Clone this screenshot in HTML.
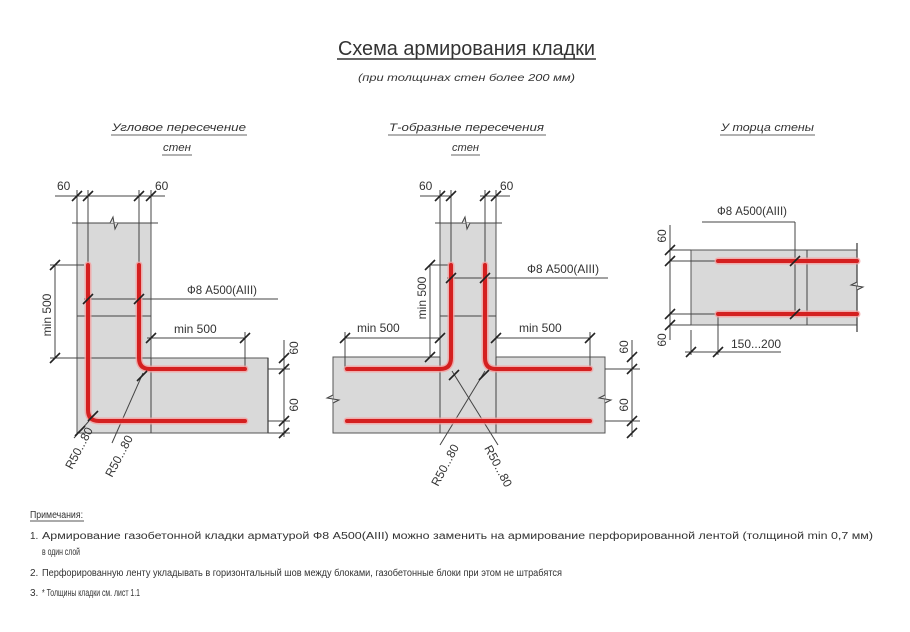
<!DOCTYPE html>
<html><head><meta charset="utf-8"><style>
html,body{margin:0;padding:0;background:#fff;}
svg{display:block;}
text{font-family:"Liberation Sans","DejaVu Sans",sans-serif;fill:#333;}
.it{font-style:italic;}
</style></head><body>
<svg width="910" height="632" viewBox="0 0 910 632" xmlns="http://www.w3.org/2000/svg">
<defs>
<g id="tk"><line x1="-5" y1="5" x2="5" y2="-5" stroke="#222" stroke-width="1.6"/></g>
</defs>
<text x="338" y="55" font-size="20" textLength="257" lengthAdjust="spacingAndGlyphs">Схема армирования кладки</text>
<line x1="337" y1="59" x2="596" y2="59" stroke="#333" stroke-width="1.5"/>
<text x="358" y="81" font-size="10" class="it" fill="#666" textLength="217" lengthAdjust="spacingAndGlyphs">(при толщинах стен более 200 мм)</text>

<g font-size="11" class="it">
<text x="112" y="131" textLength="134" lengthAdjust="spacingAndGlyphs">Угловое пересечение</text>
<line x1="111" y1="135" x2="247" y2="135" stroke="#666"/>
<text x="163" y="151" textLength="28" lengthAdjust="spacingAndGlyphs">стен</text>
<line x1="162" y1="155" x2="192" y2="155" stroke="#666"/>
<text x="389" y="131" textLength="155" lengthAdjust="spacingAndGlyphs">Т-образные пересечения</text>
<line x1="388" y1="135" x2="546" y2="135" stroke="#666"/>
<text x="452" y="151" textLength="27" lengthAdjust="spacingAndGlyphs">стен</text>
<line x1="451" y1="155" x2="480" y2="155" stroke="#666"/>
<text x="721" y="131" textLength="93" lengthAdjust="spacingAndGlyphs">У торца стены</text>
<line x1="720" y1="135" x2="815" y2="135" stroke="#666"/>
</g>

<g stroke="#444" stroke-width="1" fill="none">
<path d="M77 223 H151 V358 H268 V433 H77 Z" fill="#d9d9d9" stroke="#555"/>
<line x1="72" y1="223" x2="158" y2="223"/>
<path d="M110 223 l3 -6 l2 12 l3 -6" fill="#d9d9d9"/>
<line x1="77" y1="316" x2="151" y2="316"/>
<line x1="151" y1="358" x2="151" y2="433"/>
<line x1="268" y1="358" x2="268" y2="433" stroke-width="1.3"/>
<line x1="77" y1="358" x2="151" y2="358"/>
<line x1="55" y1="196" x2="158" y2="196"/>
<line x1="77" y1="190" x2="77" y2="223"/>
<line x1="88" y1="190" x2="88" y2="265"/>
<line x1="139" y1="190" x2="139" y2="265"/>
<line x1="151" y1="190" x2="151" y2="223"/>
<line x1="140" y1="196" x2="165" y2="196"/>
<line x1="55" y1="265" x2="55" y2="358"/>
<line x1="50" y1="265" x2="84" y2="265"/>
<line x1="50" y1="358" x2="77" y2="358"/>
<line x1="84" y1="299" x2="278" y2="299"/>
<line x1="147" y1="338" x2="245" y2="338"/>
<line x1="245" y1="332" x2="245" y2="369"/>
<line x1="284" y1="340" x2="284" y2="437"/>
<line x1="268" y1="369" x2="290" y2="369"/>
<line x1="268" y1="421" x2="290" y2="421"/>
<line x1="268" y1="433" x2="290" y2="433"/>
<line x1="96" y1="413" x2="74" y2="438"/>
<line x1="143" y1="373" x2="112" y2="443"/>

<path d="M440 223 H496 V357 H605 V433 H333 V357 H440 Z" fill="#d9d9d9" stroke="#555"/>
<line x1="435" y1="223" x2="502" y2="223"/>
<path d="M462 223 l3 -6 l2 12 l3 -6" fill="#d9d9d9"/>
<line x1="440" y1="316" x2="496" y2="316"/>
<line x1="440" y1="357" x2="440" y2="433"/>
<line x1="496" y1="357" x2="496" y2="433"/>
<path d="M333 395 l-6 3 l12 2 l-6 3" fill="#d9d9d9"/>
<path d="M605 395 l-6 3 l12 2 l-6 3" fill="#d9d9d9"/>
<line x1="420" y1="196" x2="451" y2="196"/>
<line x1="480" y1="196" x2="510" y2="196"/>
<line x1="440" y1="190" x2="440" y2="223"/>
<line x1="451" y1="190" x2="451" y2="265"/>
<line x1="485" y1="190" x2="485" y2="265"/>
<line x1="496" y1="190" x2="496" y2="223"/>
<line x1="430" y1="265" x2="451" y2="265"/>
<line x1="430" y1="265" x2="430" y2="357"/>
<line x1="447" y1="278" x2="608" y2="278"/>
<line x1="345" y1="338" x2="440" y2="338"/>
<line x1="345" y1="332" x2="345" y2="369"/>
<line x1="496" y1="338" x2="590" y2="338"/>
<line x1="590" y1="332" x2="590" y2="369"/>
<line x1="605" y1="369" x2="640" y2="369"/>
<line x1="605" y1="421" x2="640" y2="421"/>
<line x1="632" y1="340" x2="632" y2="437"/>
<line x1="430" y1="357" x2="440" y2="357"/>
<line x1="452" y1="371" x2="498" y2="445"/>
<line x1="485" y1="371" x2="440" y2="445"/>

<rect x="691" y="250" width="166" height="75" fill="#d9d9d9" stroke="#555"/>
<line x1="807" y1="250" x2="807" y2="325"/>
<line x1="857" y1="243" x2="857" y2="332" stroke-width="1.3"/>
<path d="M857 282 l-6 3 l12 2 l-6 3" fill="#d9d9d9"/>
<line x1="670" y1="250" x2="691" y2="250"/>
<line x1="670" y1="261" x2="718" y2="261"/>
<line x1="670" y1="314" x2="718" y2="314"/>
<line x1="670" y1="325" x2="691" y2="325"/>
<line x1="670" y1="225" x2="670" y2="340"/>
<line x1="702" y1="222" x2="795" y2="222"/>
<line x1="795" y1="222" x2="795" y2="314"/>
<line x1="691" y1="330" x2="691" y2="355"/>
<line x1="718" y1="314" x2="718" y2="355"/>
<line x1="685" y1="352" x2="781" y2="352"/>
</g>

<g fill="none" stroke-linecap="round" stroke-linejoin="round">
<g stroke="#f4a0a0" stroke-width="7" opacity="0.8">
<path d="M88 265 V410 Q88 421 99 421 H245"/>
<path d="M139 265 V358 Q139 369 150 369 H245"/>
<path d="M451 265 V358 Q451 369 440 369 H347"/>
<path d="M485 265 V358 Q485 369 496 369 H590"/>
<path d="M347 421 H590"/>
<path d="M718 261 H857 M718 314 H857"/>
</g>
<g stroke="#d42020" stroke-width="4">
<path d="M88 265 V410 Q88 421 99 421 H245"/>
<path d="M139 265 V358 Q139 369 150 369 H245"/>
<path d="M451 265 V358 Q451 369 440 369 H347"/>
<path d="M485 265 V358 Q485 369 496 369 H590"/>
<path d="M347 421 H590"/>
<path d="M718 261 H857 M718 314 H857"/>
</g>
</g>

<g>
<use href="#tk" x="77" y="196"/><use href="#tk" x="88" y="196"/><use href="#tk" x="139" y="196"/><use href="#tk" x="151" y="196"/>
<use href="#tk" x="55" y="265"/><use href="#tk" x="55" y="358"/>
<use href="#tk" x="88" y="299"/><use href="#tk" x="139" y="299"/>
<use href="#tk" x="151" y="338"/><use href="#tk" x="245" y="338"/>
<use href="#tk" x="284" y="369"/><use href="#tk" x="284" y="358"/><use href="#tk" x="284" y="421"/><use href="#tk" x="284" y="433"/>
<use href="#tk" x="80" y="431"/><use href="#tk" x="142" y="376"/><use href="#tk" x="93" y="416"/>
<use href="#tk" x="440" y="196"/><use href="#tk" x="451" y="196"/><use href="#tk" x="485" y="196"/><use href="#tk" x="496" y="196"/>
<use href="#tk" x="430" y="265"/><use href="#tk" x="430" y="357"/>
<use href="#tk" x="451" y="278"/><use href="#tk" x="485" y="278"/>
<use href="#tk" x="345" y="338"/><use href="#tk" x="440" y="338"/>
<use href="#tk" x="496" y="338"/><use href="#tk" x="590" y="338"/>
<use href="#tk" x="632" y="357"/><use href="#tk" x="632" y="369"/><use href="#tk" x="632" y="421"/><use href="#tk" x="632" y="433"/>
<use href="#tk" x="454" y="375"/><use href="#tk" x="484" y="375"/>
<use href="#tk" x="670" y="250"/><use href="#tk" x="670" y="261"/><use href="#tk" x="670" y="314"/><use href="#tk" x="670" y="325"/>
<use href="#tk" x="795" y="261"/><use href="#tk" x="795" y="314"/>
<use href="#tk" x="691" y="352"/><use href="#tk" x="718" y="352"/>
</g>

<g font-size="12">
<text x="57" y="190">60</text><text x="155" y="190">60</text>
<text x="187" y="294" textLength="70" lengthAdjust="spacingAndGlyphs">Ф8 A500(AIII)</text>
<text x="174" y="333">min 500</text>
<text transform="translate(51 315) rotate(-90)" text-anchor="middle">min 500</text>
<text transform="translate(298 348) rotate(-90)" text-anchor="middle">60</text>
<text transform="translate(298 405) rotate(-90)" text-anchor="middle">60</text>
<text transform="translate(72 470) rotate(-62)">R50...80</text>
<text transform="translate(112 478) rotate(-62)">R50...80</text>

<text x="419" y="190">60</text><text x="500" y="190">60</text>
<text x="527" y="273" textLength="72" lengthAdjust="spacingAndGlyphs">Ф8 A500(AIII)</text>
<text x="357" y="332">min 500</text>
<text x="519" y="332">min 500</text>
<text transform="translate(426 298) rotate(-90)" text-anchor="middle">min 500</text>
<text transform="translate(628 347) rotate(-90)" text-anchor="middle">60</text>
<text transform="translate(628 405) rotate(-90)" text-anchor="middle">60</text>
<text transform="translate(438 487) rotate(-62)">R50...80</text>
<text transform="translate(484 448) rotate(62)">R50...80</text>

<text x="717" y="215" textLength="70" lengthAdjust="spacingAndGlyphs">Ф8 A500(AIII)</text>
<text transform="translate(666 236) rotate(-90)" text-anchor="middle">60</text>
<text transform="translate(666 340) rotate(-90)" text-anchor="middle">60</text>
<text x="731" y="348">150...200</text>
</g>

<g font-size="10" fill="#333">
<text x="30" y="518" textLength="53" lengthAdjust="spacingAndGlyphs">Примечания:</text>
<line x1="30" y1="521" x2="84" y2="521" stroke="#555"/>
<text x="30" y="539">1.</text>
<text x="42" y="539" textLength="831" lengthAdjust="spacingAndGlyphs">Армирование газобетонной кладки арматурой Ф8 A500(AIII) можно заменить на армирование перфорированной лентой (толщиной min 0,7 мм)</text>
<text x="42" y="555" textLength="38" lengthAdjust="spacingAndGlyphs">в один слой</text>
<text x="30" y="576">2.</text>
<text x="42" y="576" textLength="520" lengthAdjust="spacingAndGlyphs">Перфорированную ленту укладывать в горизонтальный шов между блоками, газобетонные блоки при этом не штрабятся</text>
<text x="30" y="596">3.</text>
<text x="42" y="596" textLength="98" lengthAdjust="spacingAndGlyphs">* Толщины кладки см. лист 1.1</text>
</g>
</svg>
</body></html>
